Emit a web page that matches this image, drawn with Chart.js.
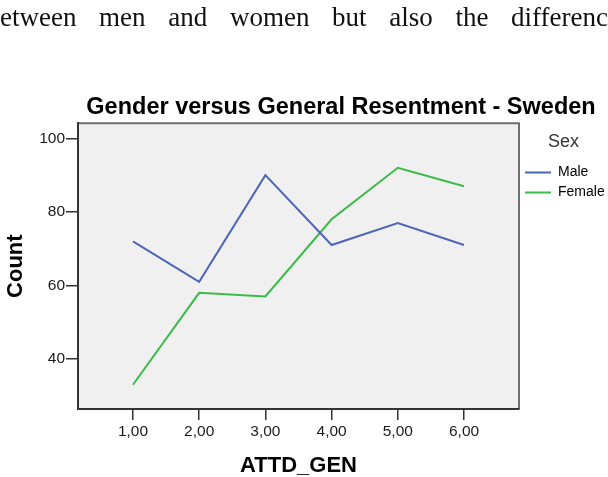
<!DOCTYPE html>
<html>
<head>
<meta charset="utf-8">
<script src="https://cdn.jsdelivr.net/npm/chart.js@4"></script>
<style>
  html, body { margin: 0; padding: 0; background: #fff; overflow: hidden; }
  #wrap { position: relative; width: 608px; height: 477px; }
  #line { position: absolute; left: 0; top: 4px; width: 608px; font: 27px/27px "Liberation Serif", serif; color: #111;
          text-align: justify; text-align-last: justify; }
  #chart { position: absolute; left: 0; top: 0; }
</style>
</head>
<body>
<div id="wrap">
  <canvas id="chart" width="608" height="477"></canvas>
  <div id="line">etween men and women but also the differenc</div>
</div>
<script>
const categories = [1, 2, 3, 4, 5, 6];
const xTickLabels = ['1,00', '2,00', '3,00', '4,00', '5,00', '6,00'];
const maleCounts = [72, 61, 90, 71, 77, 71];
const femaleCounts = [33, 58, 57, 78, 92, 87];
const yTicks = [40, 60, 80, 100];

const font = 'Liberation Sans, Arial, sans-serif';

function points(values) {
    return categories.map((c, i) => ({ x: c, y: values[i] }));
}

// grey plot panel with thin frame on top/right
const panel = {
    id: 'panel',
    beforeDraw(chart) {
        const a = chart.chartArea, ctx = chart.ctx;
        ctx.save();
        ctx.fillStyle = '#f0f0f0';
        ctx.fillRect(a.left, a.top, a.right - a.left, a.bottom - a.top);
        ctx.strokeStyle = '#6f6f6f';
        ctx.lineWidth = 2;
        ctx.beginPath();
        ctx.moveTo(a.left, a.top);
        ctx.lineTo(a.right, a.top);
        ctx.lineTo(a.right, a.bottom);
        ctx.stroke();
        ctx.restore();
    }
};

// fixed legend width, title centred over whole figure
const fixLayout = {
    id: 'fixLayout',
    beforeLayout(chart) {
        const lg = chart.legend;
        if (lg && !lg._patched) {
            const fit = lg.fit;
            lg.fit = function () { fit.call(this); this.width = 89; };
            lg._patched = true;
        }
    },
    afterLayout(chart) {
        if (chart.titleBlock) chart.titleBlock.left = 74;
    }
};

new Chart(document.getElementById('chart'), {
    type: 'line',
    data: {
        datasets: [{
            label: 'Male',
            data: points(maleCounts),
            borderColor: '#4e66b8',
            backgroundColor: '#4e66b8',
            borderWidth: 2,
            pointRadius: 0,
            tension: 0
        }, {
            label: 'Female',
            data: points(femaleCounts),
            borderColor: '#3cba48',
            backgroundColor: '#3cba48',
            borderWidth: 2,
            pointRadius: 0,
            tension: 0
        }]
    },
    options: {
        responsive: false,
        animation: false,
        devicePixelRatio: 1,
        layout: { padding: 0 },
        plugins: {
            title: {
                display: true,
                text: 'Gender versus General Resentment - Sweden',
                color: '#000',
                font: { family: font, size: 23.5, weight: 'bold', lineHeight: 1.2 },
                padding: { top: 93.6, bottom: 1.5 }
            },
            legend: {
                position: 'right',
                align: 'start',
                fullSize: false,
                title: {
                    display: true,
                    text: 'Sex',
                    color: '#333',
                    font: { family: font, size: 18 },
                    padding: { top: 10, bottom: 4.5 }
                },
                labels: {
                    color: '#000',
                    font: { family: font, size: 14 },
                    boxWidth: 26,
                    boxHeight: 2,
                    padding: 6,
                    generateLabels(chart) {
                        return Chart.defaults.plugins.legend.labels.generateLabels(chart)
                            .map(l => Object.assign(l, { lineWidth: 0 }));
                    }
                }
            },
            tooltip: { enabled: false }
        },
        scales: {
            x: {
                type: 'linear',
                min: 0.17,
                max: 6.83,
                afterBuildTicks(scale) { scale.ticks = categories.map(v => ({ value: v })); },
                afterFit(scale) { scale.height = 68; },
                ticks: {
                    color: '#1a1a1a',
                    font: { family: font, size: 15.5 },
                    padding: 2,
                    callback: v => xTickLabels[categories.indexOf(v)]
                },
                grid: { display: true, drawOnChartArea: false, drawTicks: true, tickLength: 11, color: '#333', lineWidth: 1.5 },
                border: { display: true, color: '#333', width: 2 },
                title: {
                    display: true,
                    text: 'ATTD_GEN',
                    color: '#000',
                    font: { family: font, size: 22, weight: 'bold', lineHeight: 1 },
                    padding: { top: 0, bottom: 0 }
                }
            },
            y: {
                min: 26.4,
                max: 104.1,
                afterBuildTicks(scale) { scale.ticks = yTicks.map(v => ({ value: v })); },
                afterFit(scale) { scale.width = 78; },
                ticks: {
                    color: '#1a1a1a',
                    font: { family: font, size: 15.5 },
                    padding: 1
                },
                grid: { display: true, drawOnChartArea: false, drawTicks: true, tickLength: 12, color: '#333', lineWidth: 1.5 },
                border: { display: true, color: '#333', width: 2 },
                title: {
                    display: true,
                    text: 'Count',
                    color: '#000',
                    font: { family: font, size: 22, weight: 'bold', lineHeight: 1 },
                    padding: { top: 5, bottom: 0 }
                }
            }
        }
    },
    plugins: [panel, fixLayout]
});
</script>
</body>
</html>
